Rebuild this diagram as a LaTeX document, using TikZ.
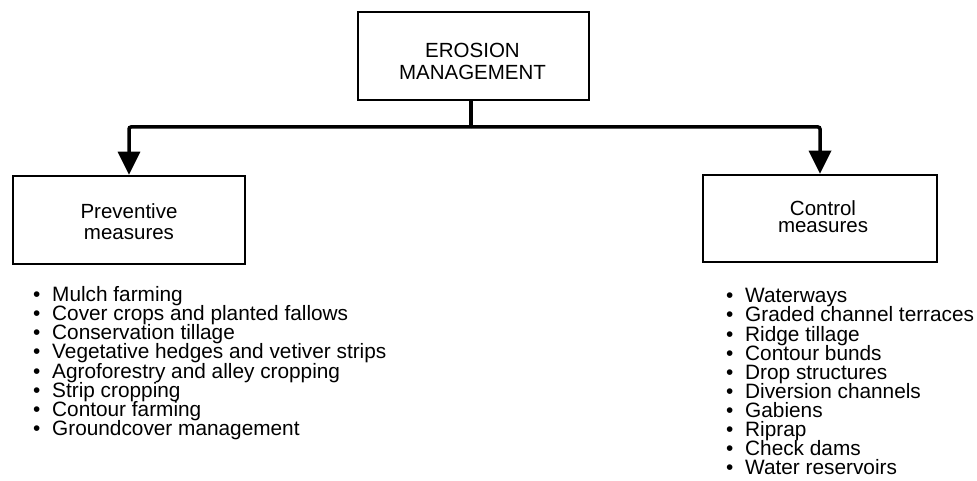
\documentclass[tikz,border=0pt]{standalone}
\usepackage{fontspec}
\setmainfont{Liberation Sans}
\usetikzlibrary{arrows.meta}

% keep a fixed distance between baselines, whatever the glyphs
\newcommand{\fixedlines}{\lineskiplimit=-20pt\relax\lineskip=0pt\relax}

\tikzset{
  box/.style={draw, line width=2.5pt, inner sep=0pt},
  boxtext/.style={align=center, inner sep=0pt},
  conn/.style={line width=3.5pt, rounded corners=2pt},
  arr/.style={conn, -{Triangle[width=22pt,length=23pt]}},
  itemlist/.style={align=left, inner sep=0pt, anchor=north west}
}
\newcommand{\bul}{\makebox[19pt][l]{\textbullet}}

\begin{document}
\begin{tikzpicture}[x=1pt, y=-1pt]
  \useasboundingbox (0,0) rectangle (977,481);

  % top box
  \node[box, minimum width=231pt, minimum height=88pt] (top) at (473.5,56) {};
  \node[boxtext, font=\fontsize{20.5}{22}\selectfont] (toptext) at (472.5,61.5)
    {EROSION\\MANAGEMENT};

  % the two branches
  \node[box, minimum width=232pt, minimum height=88pt] (prev) at (129,220) {};
  \node[boxtext, font=\fontsize{20.5}{21}\selectfont\fixedlines] (prevtext) at (129,221.5)
    {Preventive\\measures};

  \node[box, minimum width=234pt, minimum height=87pt] (ctrl) at (820,218.5) {};
  \node[boxtext, font=\fontsize{20.5}{17}\selectfont\fixedlines]
    (ctrltext) at (823,217) {Control\\measures};

  % connectors
  \coordinate (hub) at (471,127);
  \draw[conn] ([xshift=-2.5pt]top.south) -- (hub);
  \draw[arr] (hub) -| (prev.north);
  \draw[arr] (hub) -| (ctrl.north);

  % lists of measures
  \node[itemlist, font=\fontsize{20.8}{19.2}\selectfont\fixedlines] (prevlist) at (33,286) {%
    \bul Mulch farming\\
    \bul Cover crops and planted fallows\\
    \bul Conservation tillage\\
    \bul Vegetative hedges and vetiver strips\\
    \bul Agroforestry and alley cropping\\
    \bul Strip cropping\\
    \bul Contour farming\\
    \bul Groundcover management};

  \node[itemlist, font=\fontsize{20.8}{19.1}\selectfont\fixedlines] (ctrllist) at (726,287.5) {%
    \bul Waterways\\
    \bul Graded channel terraces\\[1pt]
    \bul Ridge tillage\\
    \bul Contour bunds\\
    \bul Drop structures\\
    \bul Diversion channels\\
    \bul Gabiens\\
    \bul Riprap\\
    \bul Check dams\\
    \bul Water reservoirs};
\end{tikzpicture}
\end{document}
